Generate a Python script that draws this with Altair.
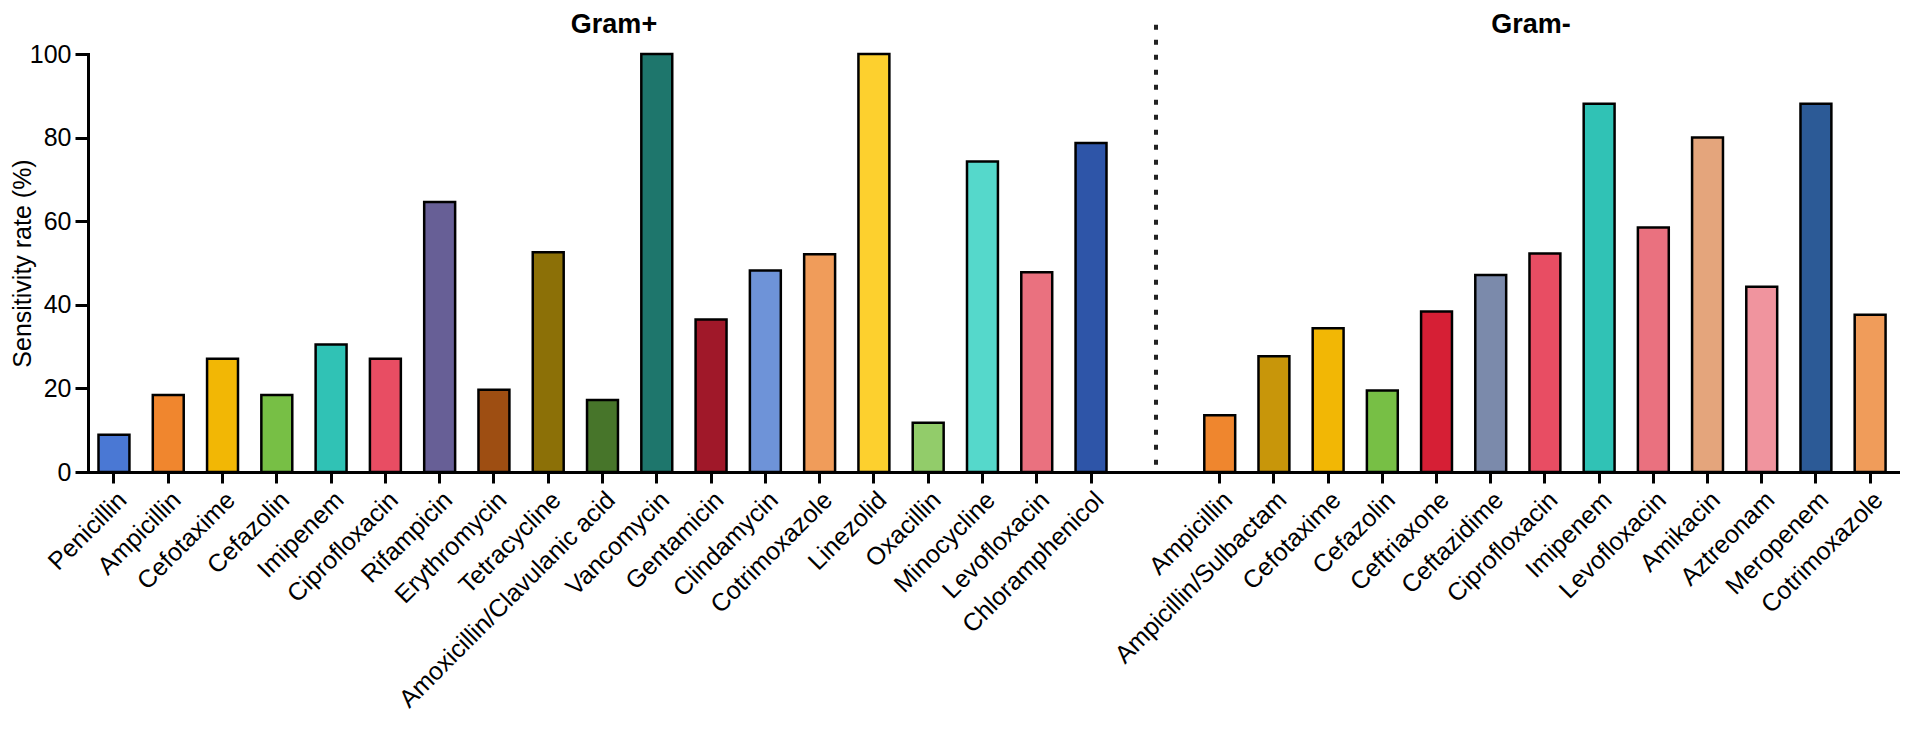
import altair as alt
import pandas as pd

# ---------------- data ----------------
gp_drugs = ["Penicillin", "Ampicillin", "Cefotaxime", "Cefazolin", "Imipenem",
            "Ciprofloxacin", "Rifampicin", "Erythromycin", "Tetracycline",
            "Amoxicillin/Clavulanic acid", "Vancomycin", "Gentamicin",
            "Clindamycin", "Cotrimoxazole", "Linezolid", "Oxacillin",
            "Minocycline", "Levofloxacin", "Chloramphenicol"]
gp_rates = [8.9, 18.4, 27.1, 18.4, 30.5, 27.1, 64.6, 19.7, 52.6, 17.2, 100,
            36.5, 48.2, 52.1, 100, 11.8, 74.3, 47.8, 78.7]
gp_colors = ["#4a78d4", "#f0862e", "#f2b705", "#77bf45", "#30c2b5", "#e84d63",
             "#675f96", "#9e4e12", "#8c7007", "#47752a", "#1e766c", "#a01829",
             "#6e93d8", "#f09c5a", "#fdd02e", "#92cc6a", "#55d8cb", "#ea717f",
             "#2e55a8"]

gn_drugs = ["Ampicillin", "Ampicillin/Sulbactam", "Cefotaxime", "Cefazolin",
            "Ceftriaxone", "Ceftazidime", "Ciprofloxacin", "Imipenem",
            "Levofloxacin", "Amikacin", "Aztreonam", "Meropenem", "Cotrimoxazole"]
gn_rates = [13.6, 27.7, 34.4, 19.5, 38.4, 47.1, 52.3, 88.1, 58.5, 80.0, 44.3,
            88.1, 37.6]
gn_colors = ["#ef862e", "#c8960a", "#f2b705", "#77bf45", "#d61f35", "#7b8aab",
             "#e84d63", "#30c2b5", "#ea717f", "#e4a57c", "#f0949e", "#2c5a96",
             "#f09c5a"]

group_titles = ["Gram+", "Gram-"]
divider_extent = {"top": [107], "bottom": [0]}

gp = pd.DataFrame({"drug": gp_drugs, "rate": gp_rates, "color": gp_colors})
gn = pd.DataFrame({"drug": gn_drugs, "rate": gn_rates, "color": gn_colors})

FONT = "Liberation Sans"
H = 418
W1 = 1068
W2 = 744

yscale = alt.Scale(domain=[0, 100], nice=False, zero=True)


def bars(df, drugs, pin, pout, align, show_y):
    yaxis = alt.Axis(values=[0, 20, 40, 60, 80, 100], title="Sensitivity rate (%)",
                     grid=False, tickSize=13, labelPadding=4, titlePadding=-6,
                     titleFontWeight="normal", titleFontSize=25,
                     labelFontSize=25) if show_y else None
    return alt.Chart(df).mark_bar(stroke="black", strokeWidth=2.5).encode(
        x=alt.X("drug:N", sort=drugs,
                scale=alt.Scale(paddingInner=pin, paddingOuter=pout, align=align),
                axis=alt.Axis(title=None, labelAngle=-45, labelFontSize=25,
                              tickSize=11, labelPadding=4, grid=False,
                              labelLimit=500)),
        y=alt.Y("rate:Q", scale=yscale, axis=yaxis),
        fill=alt.Fill("color:N", scale=None),
    )


def group_title(text, xpos):
    return alt.Chart(pd.DataFrame({"t": [text]})).mark_text(
        font=FONT, fontSize=27, fontWeight="bold", color="black",
        baseline="alphabetic", align="center"
    ).encode(x=alt.value(xpos), y=alt.value(-21), text="t:N")


left_bars = bars(gp, gp_drugs, 0.43, 0.5527, 0.175, True)
right_bars = bars(gn, gn_drugs, 0.43, 0.5785, 0.77, False)

divider = alt.Chart(pd.DataFrame(divider_extent)).mark_rule(
    color="#222222", strokeWidth=4, strokeDash=[5, 10]
).encode(
    x=alt.value(W1),
    y=alt.Y("top:Q", scale=yscale),
    y2="bottom:Q",
)

left = alt.layer(left_bars, divider, group_title(group_titles[0], 526)).properties(
    width=W1, height=H)
right = alt.layer(right_bars, group_title(group_titles[1], 375)).properties(
    width=W2, height=H)

chart = alt.hconcat(left, right, spacing=0, bounds="flush").resolve_scale(
    x="independent"
).properties(
    padding={"left": 2, "top": 3, "right": 0, "bottom": 0},
    background="white",
).configure_view(
    strokeWidth=0
).configure_axis(
    domainColor="black", domainWidth=3, tickColor="black", tickWidth=3,
    labelColor="black", titleColor="black", labelFont=FONT, titleFont=FONT,
    domainCap="square"
)

chart.save("out.html", embed_options={"renderer": "svg", "actions": False})
